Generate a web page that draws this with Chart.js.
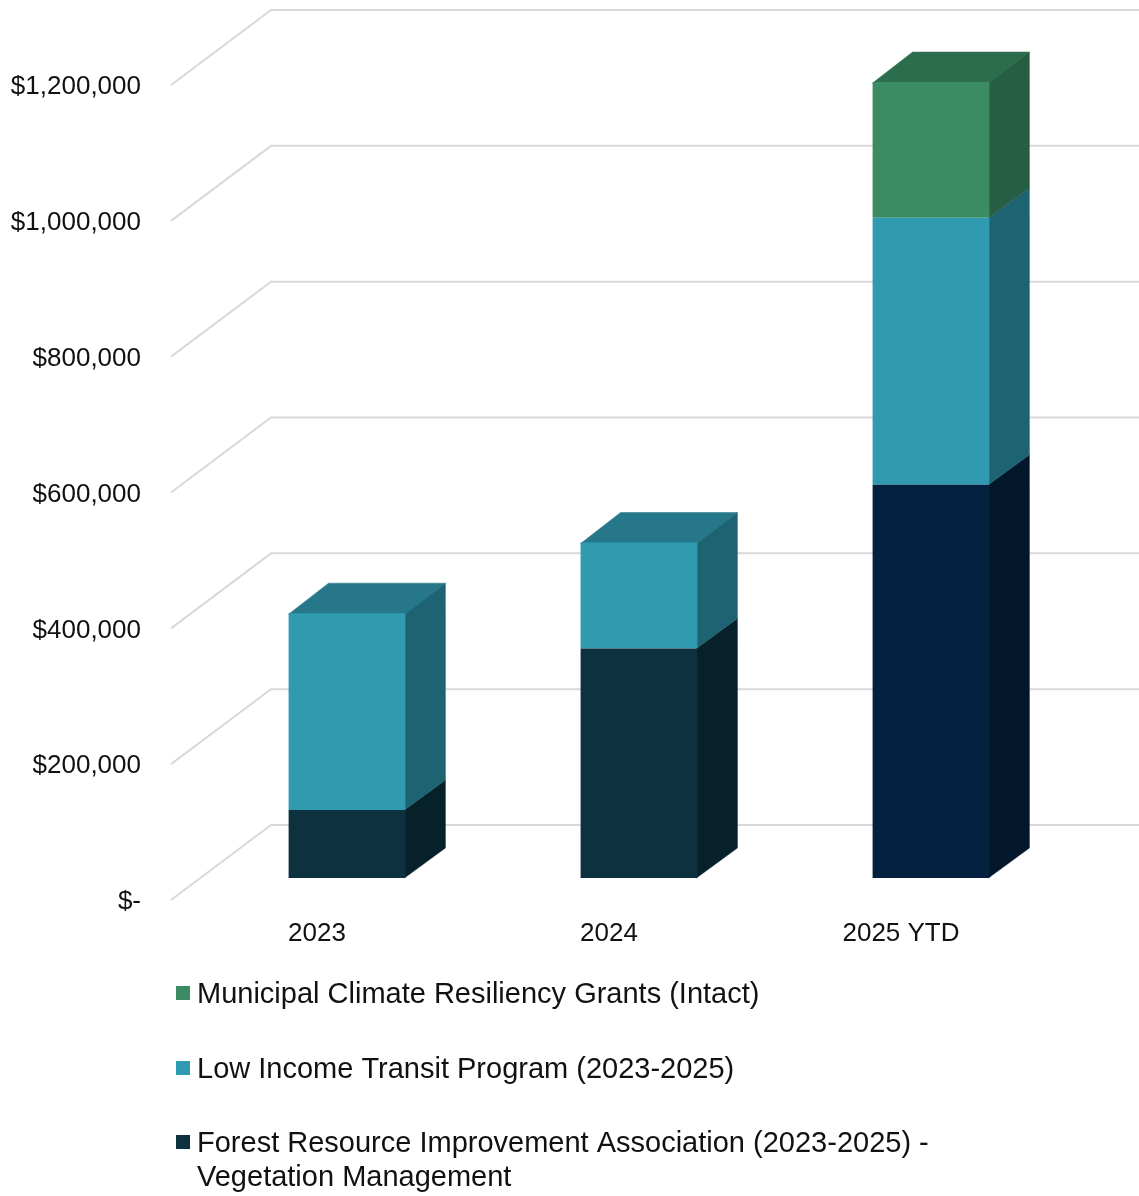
<!DOCTYPE html>
<html>
<head>
<meta charset="utf-8">
<title>Funding by program</title>
<script src="https://cdn.jsdelivr.net/npm/chart.js@4/dist/chart.umd.min.js"></script>
<style>
  html, body { margin: 0; padding: 0; background: #fff; }
  canvas { display: block; }
</style>
</head>
<body>
<canvas id="myChart" width="1139" height="1196"></canvas>
<script>
const categories = ['2023', '2024', '2025 YTD'];

const forestValues = [100000, 338000, 579000];
const transitValues = [290000, 156000, 393000];
const climateValues = [null, null, 200000];

const forestLabel = ['Forest Resource Improvement Association (2023-2025) -', 'Vegetation Management'];
const transitLabel = ['Low Income Transit Program (2023-2025)'];
const climateLabel = ['Municipal Climate Resiliency Grants (Intact)'];

const forestFront = ['#0e3140', '#0e3140', '#042140'];
const forestSide = ['#07212b', '#07212b', '#03172b'];
const transitFront = '#2f9ab0';
const transitSide = '#1e6372';
const transitTop = '#267789';
const climateFront = '#3c8c63';
const climateSide = '#265e43';
const climateTop = '#2c6d4d';

const fontFamily = '"Liberation Sans", Arial, sans-serif';
const textColor = '#111';

// depth of the back wall and of the boxes, in px
const wallX = 100, wallY = 75;
const barShiftX = 30, barShiftY = 22;
const boxX = 40, boxY = 30;

const poly = (ctx, color, pts) => {
    ctx.fillStyle = color;
    ctx.strokeStyle = color;
    ctx.lineWidth = 0.5;
    ctx.beginPath();
    pts.forEach((p, i) => i ? ctx.lineTo(p[0], p[1]) : ctx.moveTo(p[0], p[1]));
    ctx.closePath();
    ctx.fill();
    ctx.stroke();
};

const wallPlugin = {
    id: 'wall',
    afterLayout(chart) {
        // Liberation sits a bit high on a middle baseline, nudge the value labels down
        const y = chart.scales.y;
        const drawLabels = y.drawLabels;
        y.drawLabels = function (area) {
            chart.ctx.save();
            chart.ctx.translate(0, 2);
            drawLabels.call(this, area);
            chart.ctx.restore();
        };
    },
    beforeDatasetsDraw(chart) {
        const { ctx, chartArea, scales } = chart;
        ctx.save();
        ctx.strokeStyle = '#d9d9d9';
        ctx.lineWidth = 2;
        scales.y.ticks.forEach(t => {
            const y = scales.y.getPixelForValue(t.value);
            ctx.beginPath();
            ctx.moveTo(chartArea.left, y);
            ctx.lineTo(chartArea.left + wallX, y - wallY);
            ctx.lineTo(chart.width, y - wallY);
            ctx.stroke();
        });

        // the boxes sit a little behind the axis plane
        ctx.translate(barShiftX, -barShiftY);
        chart.data.datasets.forEach((ds, d) => {
            chart.getDatasetMeta(d).data.forEach((bar, i) => {
                if (ds.data[i] == null) return;
                const r = bar.x + bar.width / 2;
                const l = bar.x - bar.width / 2;
                // runs 1px under the front face so no seam shows
                poly(ctx, ds.sideColor[i], [[r - 1, bar.y], [r + boxX, bar.y - boxY], [r + boxX, bar.base - boxY], [r - 1, bar.base]]);
                const isTop = !chart.data.datasets.slice(d + 1).some(o => o.data[i] != null);
                if (isTop) {
                    poly(ctx, ds.topColor, [[l, bar.y + 1], [l + boxX, bar.y - boxY], [r + boxX, bar.y - boxY], [r, bar.y + 1]]);
                }
            });
        });
        // left translated for the front faces, afterDatasetsDraw restores it
    },
    afterDatasetsDraw(chart) {
        chart.ctx.restore();
    }
};

const legendPlugin = {
    id: 'sideLegend',
    afterDraw(chart) {
        const { ctx } = chart;
        const rows = [
            { ds: 2, y: 993 },
            { ds: 1, y: 1068 },
            { ds: 0, y: 1142 }
        ];
        ctx.save();
        ctx.font = '29px ' + fontFamily;
        ctx.textBaseline = 'middle';
        ctx.textAlign = 'left';
        rows.forEach(row => {
            const ds = chart.data.datasets[row.ds];
            ctx.fillStyle = ds.legendColor;
            ctx.fillRect(176, row.y - 7, 14, 14);
            ctx.fillStyle = textColor;
            ds.legendLines.forEach((line, i) => ctx.fillText(line, 197, row.y + 2 + i * 34));
        });
        ctx.restore();
    }
};

new Chart(document.getElementById('myChart'), {
    type: 'bar',
    data: {
        labels: categories,
        datasets: [
            { label: forestLabel.join(' '), legendLines: forestLabel, legendColor: forestFront[0], data: forestValues, backgroundColor: forestFront, sideColor: forestSide, topColor: forestSide[0] },
            { label: transitLabel[0], legendLines: transitLabel, legendColor: transitFront, data: transitValues, backgroundColor: transitFront, sideColor: categories.map(() => transitSide), topColor: transitTop },
            { label: climateLabel[0], legendLines: climateLabel, legendColor: climateFront, data: climateValues, backgroundColor: climateFront, sideColor: categories.map(() => climateSide), topColor: climateTop }
        ]
    },
    options: {
        responsive: false,
        animation: false,
        layout: { padding: { top: 85, right: 92, bottom: 0, left: 0 } },
        datasets: { bar: { categoryPercentage: 1, barPercentage: 0.4 } },
        plugins: {
            legend: { display: false },
            tooltip: { enabled: false }
        },
        scales: {
            x: {
                stacked: true,
                grid: { display: false },
                border: { display: false },
                afterFit: axis => { axis.height = 296; },
                ticks: { color: textColor, padding: 10, maxRotation: 0, font: { family: fontFamily, size: 26 } }
            },
            y: {
                stacked: true,
                min: 0,
                max: 1200000,
                grid: { display: false },
                border: { display: false },
                afterFit: axis => { axis.width = 171; },
                ticks: {
                    stepSize: 200000,
                    color: textColor,
                    padding: 22,
                    font: { family: fontFamily, size: 26 },
                    callback: v => v === 0 ? '$-' : '$' + v.toLocaleString('en-US')
                }
            }
        }
    },
    plugins: [wallPlugin, legendPlugin]
});
</script>
</body>
</html>
